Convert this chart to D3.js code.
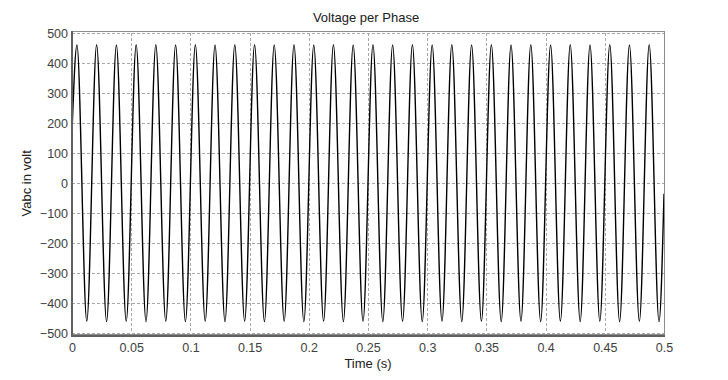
<!DOCTYPE html>
<html>
<head>
<meta charset="utf-8">
<script src="https://cdn.jsdelivr.net/npm/d3@7"></script>
<style>
  html, body { margin: 0; padding: 0; background: #ffffff; }
  svg { display: block; }
  text { font-family: "Liberation Sans", Arial, sans-serif; }
</style>
</head>
<body>
<div id="chart"></div>
<script>
// ---- Data ----
const title = "Voltage per Phase";
const xLabel = "Time (s)";
const yLabel = "Vabc in volt";
const xTicks = [0, 0.05, 0.1, 0.15, 0.2, 0.25, 0.3, 0.35, 0.4, 0.45, 0.5];
const xTickLabels = ["0", "0.05", "0.1", "0.15", "0.2", "0.25", "0.3", "0.35", "0.4", "0.45", "0.5"];
const yTicks = [-500, -400, -300, -200, -100, 0, 100, 200, 300, 400, 500];

// waveform knots: start value, alternating peaks / troughs, end value
const timeS = [
  0, 0.0042, 0.0125, 0.0208, 0.0292, 0.0375, 0.0458, 0.0542, 0.0625, 0.0708, 0.0792,
  0.0875, 0.0958, 0.1042, 0.1125, 0.1208, 0.1292, 0.1375, 0.1458, 0.1542, 0.1625,
  0.1708, 0.1792, 0.1875, 0.1958, 0.2042, 0.2125, 0.2208, 0.2292, 0.2375, 0.2458,
  0.2542, 0.2625, 0.2708, 0.2792, 0.2875, 0.2958, 0.3042, 0.3125, 0.3208, 0.3292,
  0.3375, 0.3458, 0.3542, 0.3625, 0.3708, 0.3792, 0.3875, 0.3958, 0.4042, 0.4125,
  0.4208, 0.4292, 0.4375, 0.4458, 0.4542, 0.4625, 0.4708, 0.4792, 0.4875, 0.4958, 0.5
];
const voltage = [
  170, 461, -460, 462, -461, 461, -460, 462, -461, 462, -460,
  461, -461, 462, -460, 461, -461, 462, -460, 462, -461,
  461, -460, 462, -461, 461, -460, 462, -461, 461, -460,
  462, -461, 461, -460, 462, -461, 461, -460, 462, -461,
  461, -460, 462, -461, 461, -460, 462, -461, 461, -460,
  462, -461, 461, -460, 462, -461, 461, -460, 462, -461, -35
];

// ---- Layout ----
const W = 728, H = 380;
const m = { left: 72, right: 64, top: 33.3, bottom: 46.7 };

const svg = d3.select("#chart").append("svg")
  .attr("width", W).attr("height", H);

const x = d3.scaleLinear().domain([0, 0.5]).range([m.left, W - m.right]);
const y = d3.scaleLinear().domain([-500, 500]).range([H - m.bottom, m.top]);

svg.append("rect").attr("x", 0).attr("y", 0).attr("width", W).attr("height", H).attr("fill", "#ffffff");

// grid
const grid = svg.append("g").attr("stroke", "#a8a8a8").attr("stroke-width", 1)
  .attr("stroke-dasharray", "3,2").attr("shape-rendering", "crispEdges");
grid.selectAll("line.v").data(xTicks.slice(1, -1)).join("line")
  .attr("x1", d => Math.round(x(d)) + 0.5).attr("x2", d => Math.round(x(d)) + 0.5)
  .attr("y1", y(500)).attr("y2", y(-500));
grid.selectAll("line.h").data(yTicks).join("line")
  .attr("x1", x(0)).attr("x2", x(0.5))
  .attr("y1", d => Math.round(y(d)) + 0.5).attr("y2", d => Math.round(y(d)) + 0.5);

// clip
svg.append("clipPath").attr("id", "clip").append("rect")
  .attr("x", x(0)).attr("y", y(500) - 1).attr("width", x(0.5) - x(0)).attr("height", y(-500) - y(500) + 2);

const series = timeS.map((t, i) => ({ t, v: voltage[i] }));
const line = d3.line().x(d => x(d.t)).y(d => y(d.v)).curve(d3.curveMonotoneX);

svg.append("path").datum(series)
  .attr("clip-path", "url(#clip)")
  .attr("fill", "none").attr("stroke", "#000000").attr("stroke-width", 1.4)
  .attr("d", line);

// frame
const frame = svg.append("g").attr("shape-rendering", "crispEdges");
frame.append("rect")
  .attr("x", x(0)).attr("y", Math.round(y(500)) - 1.5)
  .attr("width", x(0.5) - x(0)).attr("height", y(-500) - y(500) + 3)
  .attr("fill", "none").attr("stroke", "#8c8c8c").attr("stroke-width", 1);
frame.append("line").attr("x1", x(0)).attr("x2", x(0))
  .attr("y1", y(500) - 2).attr("y2", y(-500) + 3)
  .attr("stroke", "#606060").attr("stroke-width", 2);
frame.append("line").attr("x1", x(0) - 1).attr("x2", x(0.5) + 1)
  .attr("y1", y(-500) + 2.5).attr("y2", y(-500) + 2.5)
  .attr("stroke", "#606060").attr("stroke-width", 2);

// axes via d3
const xAxis = d3.axisBottom(x).tickValues(xTicks)
  .tickFormat((d, i) => xTickLabels[i]).tickSize(0).tickPadding(0);
const gx = svg.append("g").attr("transform", `translate(0, ${y(-500)})`).call(xAxis);
gx.select(".domain").remove();
gx.selectAll("text").attr("dy", null).attr("y", 19).attr("fill", "#404040")
  .style("font-size", "12.5px").style("font-family", '"Liberation Sans", Arial, sans-serif');

const yAxis = d3.axisLeft(y).tickValues(yTicks).tickFormat(d3.format("d")).tickSize(0).tickPadding(0);
const gy = svg.append("g").attr("transform", `translate(${x(0) - 4}, 0)`).call(yAxis);
gy.select(".domain").remove();
gy.selectAll("text").attr("dy", "0.35em").attr("x", 0).attr("fill", "#404040")
  .style("font-size", "12.5px").style("font-family", '"Liberation Sans", Arial, sans-serif');

// titles
svg.append("text").attr("x", (x(0) + x(0.5)) / 2 - 2).attr("y", 21.5)
  .attr("text-anchor", "middle").attr("fill", "#202020").style("font-size", "13px").text(title);
svg.append("text").attr("x", (x(0) + x(0.5)) / 2).attr("y", 368)
  .attr("text-anchor", "middle").attr("fill", "#202020").style("font-size", "13px").text(xLabel);
svg.append("text").attr("transform", `translate(31, ${y(0)}) rotate(-90)`)
  .attr("text-anchor", "middle").attr("fill", "#202020").style("font-size", "13px").text(yLabel);
</script>
</body>
</html>
